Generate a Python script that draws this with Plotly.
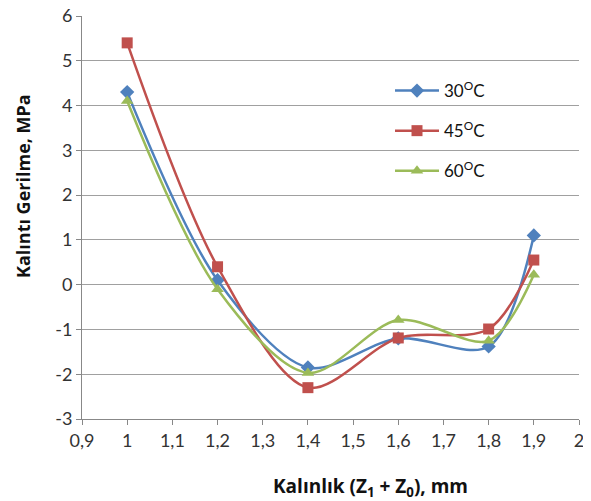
import plotly.graph_objects as go

x_vals = [1.0, 1.2, 1.4, 1.6, 1.8, 1.9]
s30 = [4.3, 0.1, -1.85, -1.2, -1.38, 1.1]
s45 = [5.4, 0.4, -2.3, -1.19, -0.99, 0.55]
s60 = [4.1, -0.1, -1.97, -0.79, -1.25, 0.22]
names = ["30<sup>O</sup>C", "45<sup>O</sup>C", "60<sup>O</sup>C"]
colors = ["#4F81BD", "#C0504D", "#9BBB59"]
symbols = ["diamond", "square", "triangle-up"]
x_ticks = [0.9, 1.0, 1.1, 1.2, 1.3, 1.4, 1.5, 1.6, 1.7, 1.8, 1.9, 2.0]
x_ticktext = ["0,9", "1", "1,1", "1,2", "1,3", "1,4", "1,5", "1,6", "1,7", "1,8", "1,9", "2"]
y_ticks = [-3, -2, -1, 0, 1, 2, 3, 4, 5, 6]
y_ticktext = ["-3", "-2", "-1", "0", "1", "2", "3", "4", "5", "6"]

FONT = "Lato"
TFONT = "Open Sans"
W, H = 583, 493
L, R, T, B = 74, 12, 8, 82
PW, PH = W - L - R, H - T - B

def px(xp):  # reference pixel x -> paper
    return (xp - 8 - L) / PW

def py(yp):  # reference pixel y -> paper
    return (H - B - (yp - 8)) / PH

fig = go.Figure()
for i, (ys, nm, c, sym) in enumerate(zip([s30, s45, s60], names, colors, symbols)):
    fig.add_trace(go.Scatter(
        x=x_vals, y=ys, name=nm, mode="lines+markers",
        line=dict(color=c, width=2.5, shape="spline", smoothing=0.9),
        marker=dict(symbol=sym, size=11, color=c),
        legendgroup=f"g{i}",
    ))

fig.update_layout(
    width=W, height=H, autosize=False,
    margin=dict(l=L, r=R, t=T, b=B, autoexpand=False),
    paper_bgcolor="white", plot_bgcolor="white",
    font=dict(family=FONT, size=16, color="#222"),
    showlegend=True,
    legend=dict(x=px(390), y=py(73), xanchor="left", yanchor="top",
                bgcolor="rgba(0,0,0,0)", font=dict(size=17, color="#111"),
                tracegroupgap=15, itemwidth=44),
    xaxis=dict(range=[0.9, 2.0], tickvals=x_ticks, ticktext=x_ticktext,
               showgrid=False, showline=True, linecolor="#888", linewidth=1,
               ticks="outside", ticklen=5, tickcolor="#888", zeroline=False,
               automargin=False, ticklabeloverflow="allow",
               tickfont=dict(size=18, color="#333")),
    yaxis=dict(range=[-3, 6], tickvals=y_ticks, ticktext=y_ticktext,
               showgrid=True, gridcolor="#A0A0A0", gridwidth=1,
               showline=True, linecolor="#888", linewidth=1,
               ticks="outside", ticklen=5, tickcolor="#888", zeroline=False,
               automargin=False, ticklabeloverflow="allow",
               tickfont=dict(size=18, color="#333")),
    annotations=[
        dict(text="<b>Kalınlık (Z<sub>1</sub> + Z<sub>0</sub>), mm</b>", xref="paper", yref="paper",
             x=px(370), y=py(487), xanchor="center", yanchor="middle",
             showarrow=False, font=dict(family=TFONT, size=19, color="#111")),
        dict(text="<b>Kalıntı Gerilme, MPa</b>", xref="paper", yref="paper",
             x=px(23), y=py(186), xanchor="center", yanchor="middle",
             textangle=-90, showarrow=False, font=dict(family=TFONT, size=18, color="#111")),
    ],
)

fig.write_html("out.html")
